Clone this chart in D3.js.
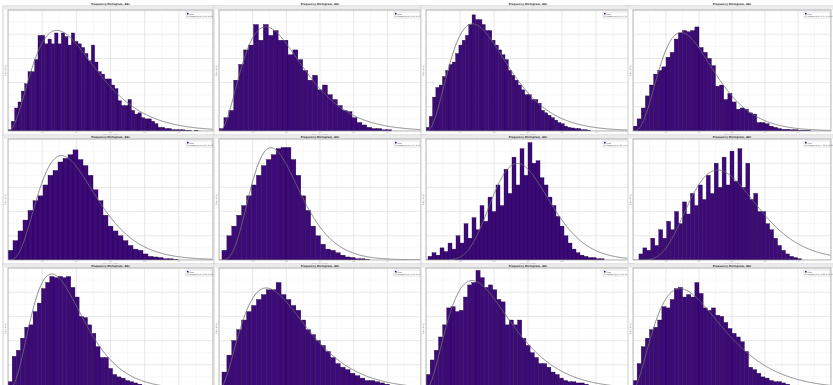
<!DOCTYPE html>
<html>
<head>
<meta charset="utf-8">
<script src="https://cdn.jsdelivr.net/npm/d3@7"></script>
<style>
  body { margin: 0; background: #fff; overflow: hidden; }
  svg { display: block; font-family: "DejaVu Sans", sans-serif; }
</style>
</head>
<body>
<div id="chart"></div>
<script>
// bar heights per bin, one array per panel
const counts1 = [1, 8, 19, 24, 33, 39, 49, 49, 59, 79, 79, 72, 76, 72, 81, 72, 81, 78, 71, 81, 74, 72, 69, 64, 58, 71, 57, 49, 47, 43, 43, 38, 35, 25, 21, 21, 26, 17, 14, 15, 11, 10, 10, 8, 6, 3, 3, 2, 2, 1, 1, 1, 1, 0.5, 0.5, 0, 0.5];
const counts2 = [2, 11, 17, 42, 55, 67, 71, 88, 75, 88, 79, 83, 75, 75, 63, 67, 59, 50, 42, 46, 34, 38, 30, 26, 21, 17, 16, 11, 7, 5, 3, 2, 2, 1, 1];
const counts3 = [3, 12, 28, 36, 38, 45, 50, 55, 57, 64, 71, 75, 79, 88, 96, 92, 92, 88, 83, 83, 75, 71, 67, 63, 59, 50, 46, 42, 38, 34, 30, 30, 26, 26, 23, 17, 15, 13, 11, 9, 7, 6, 4, 3, 2.5, 2, 2, 1, 1, 0.5];
const counts4 = [4, 10, 19, 29, 38, 47, 50, 53, 61, 65, 76, 81, 83, 82, 83, 86, 69, 65, 60, 54, 37, 38, 26, 31, 24, 18, 19, 18, 15, 14, 7, 7, 6, 4, 3, 2, 1.4, 1.4, 1, 1, 0.5, 0.5, 0.5];
const counts5 = [8, 16, 24, 33, 41, 49, 53, 62, 70, 74, 81, 84, 87, 91, 83, 78, 70, 58, 49, 37, 28, 24, 20, 16, 12, 9, 8, 5, 3, 2.5, 2, 1, 1, 0.5];
const counts6 = [8, 20, 28, 37, 45, 53, 62, 70, 78, 83, 87, 92, 93, 93, 83, 70, 53, 41, 28, 20, 13, 9, 8, 6, 4, 2.5, 2, 1, 1, 0.5];
const counts7 = [3, 6, 4, 10, 7, 14, 9, 20, 14, 30, 18, 35, 25, 45, 32, 52, 40, 62, 45, 75, 55, 85, 62, 92, 70, 97, 80, 82, 68, 62, 52, 45, 36, 28, 20, 14, 9, 6, 4, 3, 2, 2, 1, 1];
const counts8 = [5, 10, 8, 18, 12, 25, 18, 32, 25, 40, 30, 48, 38, 55, 45, 62, 50, 70, 55, 80, 60, 85, 62, 90, 65, 92, 60, 80, 50, 55, 40, 40, 30, 25, 18, 12, 8, 5, 3, 2, 1];
const counts9 = [6, 27, 32, 42, 51, 53, 64, 71, 83, 88, 93, 92, 93, 92, 93, 84, 76, 60, 59, 53, 46, 35, 26, 26, 17, 12, 10, 9, 7, 6, 5, 4, 3, 3, 2, 2, 1, 1];
const counts10 = [14, 28, 40, 49, 57, 64, 69, 74, 78, 82, 82, 88, 78, 74, 69, 65, 57, 49, 45, 40, 36, 31, 26, 21, 18, 16, 13, 11, 9, 7, 7, 6, 5, 4, 3, 2.5, 2, 1.5, 1, 0.5];
const counts11 = [12, 24, 32, 43, 53, 67, 68, 64, 65, 76, 86, 88, 98, 92, 84, 86, 82, 74, 72, 53, 57, 53, 57, 42, 36, 30, 26, 21, 21, 18, 14, 12, 9, 7, 6, 6, 5, 5, 4, 3, 2, 1];
const counts12 = [7, 21, 35, 42, 49, 51, 57, 68, 67, 74, 83, 84, 76, 78, 76, 88, 79, 67, 65, 67, 61, 60, 55, 50, 46, 43, 39, 31, 18, 16, 13, 10, 9, 7, 6, 6, 5, 4, 3, 2, 1];

const allCounts = [counts1, counts2, counts3, counts4, counts5, counts6,
                   counts7, counts8, counts9, counts10, counts11, counts12];
// how many bins fit across each x axis, and where the first bar starts (in bins)
const binsAcross = [61.5, 41, 62, 48, 41, 41, 51, 50, 49, 41, 49, 48];
const firstBin   = [0, 0, 0, 0, 0, 0.6, 0.5, 1.5, 0, 0.6, 0, 0];

const xMax = 6;          // x axis units
const yMax = 100;        // frequency axis
const titleText = 'Frequency Histogram, Abc';
const xLabelText = 'Value, Abc [units]';
const yLabelText = 'Frequency';
const legendItems = ['Data', 'Gamma fit'];

// page layout
const W = 833, H = 385;
const colX = [8, 219, 426, 633];
const colW = [205, 202, 204, 198];
const rowY = [10, 139, 268];
const plotH = 121;

const svg = d3.select('#chart').append('svg')
    .attr('width', W)
    .attr('height', H);

const defs = svg.append('defs');

// log-gamma (Lanczos) for the fitted curve
const lg = [676.5203681218851, -1259.1392167224028, 771.32342877765313, -176.61502916214059,
            12.507343278686905, -0.13857109526572012, 9.9843695780195716e-6, 1.5056327351493116e-7];
const lgamma = (z) => {
    if (z < 0.5) return Math.log(Math.PI / Math.sin(Math.PI * z)) - lgamma(1 - z);
    z -= 1;
    let x = 0.99999999999980993;
    for (let i = 0; i < 8; i++) x += lg[i] / (z + i + 1);
    const t = z + 7.5;
    return 0.5 * Math.log(2 * Math.PI) + (z + 0.5) * Math.log(t) - t + Math.log(x);
};
const gammaPdf = (t, k, theta) => t <= 0 ? 0 :
    Math.exp((k - 1) * Math.log(t) - t / theta - lgamma(k) - k * Math.log(theta));

// least-squares gamma fit (shape, mean, amplitude) on the bin centres
const fitGamma = (bins) => {
    const total = d3.sum(bins, d => d.v);
    const m0 = d3.sum(bins, d => d.v * d.c) / total;
    let best = null;
    for (let a = 0; a < 70; a++) {
        const k = Math.pow(10, 0.1 + a * 0.03);
        for (let b = 0; b < 50; b++) {
            const m = m0 * (0.7 + b * 0.012);
            const theta = m / k;
            const f = bins.map(d => gammaPdf(d.c, k, theta));
            const A = d3.sum(bins, (d, j) => d.v * f[j]) / d3.sum(f, v => v * v);
            const sse = d3.sum(bins, (d, j) => (d.v - A * f[j]) ** 2);
            if (!best || sse < best.sse) best = { k, theta, A, sse };
        }
    }
    return best;
};

allCounts.forEach((counts, i) => {
    const row = Math.floor(i / 4), col = i % 4;
    const px = colX[col], py = rowY[row], plotW = colW[col];
    const bw = xMax / binsAcross[i];

    const x = d3.scaleLinear().domain([0, xMax]).range([0, plotW]);
    const y = d3.scaleLinear().domain([0, yMax]).range([plotH, 0]);

    const g = svg.append('g').attr('transform', `translate(${px},${py})`);

    // window chrome
    g.append('rect')
        .attr('x', -5).attr('y', -4)
        .attr('width', plotW + 8).attr('height', plotH + 9)
        .attr('fill', '#fff')
        .attr('stroke', '#d6d6d6').attr('stroke-width', 1.2);
    g.append('rect')
        .attr('x', -5).attr('y', -3.6)
        .attr('width', plotW + 8).attr('height', 3.6)
        .attr('fill', '#ececec');
    g.append('text')
        .attr('x', plotW / 2).attr('y', row === 0 ? -5.5 : -1)
        .attr('text-anchor', 'middle')
        .attr('font-size', 2.6).attr('font-weight', 'bold')
        .attr('fill', '#333')
        .text(titleText);

    const clipId = `clip${i}`;
    defs.append('clipPath').attr('id', clipId)
        .append('rect').attr('width', plotW).attr('height', plotH);

    const plot = g.append('g').attr('clip-path', `url(#${clipId})`);
    plot.append('rect').attr('width', plotW).attr('height', plotH).attr('fill', '#fff');

    // grid
    const minorX = d3.range(0.5, xMax, 1), minorY = d3.range(10, yMax, 20);
    plot.selectAll('.mx').data(minorX).join('line')
        .attr('x1', d => x(d)).attr('x2', d => x(d)).attr('y1', 0).attr('y2', plotH)
        .attr('stroke', '#f1f1f1').attr('stroke-width', 0.6);
    plot.selectAll('.my').data(minorY).join('line')
        .attr('y1', d => y(d)).attr('y2', d => y(d)).attr('x1', 0).attr('x2', plotW)
        .attr('stroke', '#f1f1f1').attr('stroke-width', 0.6);
    plot.selectAll('.gx').data(x.ticks(6)).join('line')
        .attr('x1', d => x(d)).attr('x2', d => x(d)).attr('y1', 0).attr('y2', plotH)
        .attr('stroke', '#dedede').attr('stroke-width', 0.7);
    plot.selectAll('.gy').data(y.ticks(5)).join('line')
        .attr('y1', d => y(d)).attr('y2', d => y(d)).attr('x1', 0).attr('x2', plotW)
        .attr('stroke', '#dedede').attr('stroke-width', 0.7);

    // bars
    const bins = counts.map((v, j) => {
        const x0 = (firstBin[i] + j) * bw, x1 = x0 + bw;
        return { x0, x1, c: (x0 + x1) / 2, v };
    });
    plot.selectAll('.bar').data(bins).join('rect')
        .attr('x', d => x(d.x0))
        .attr('width', d => x(d.x1) - x(d.x0))
        .attr('y', d => y(d.v))
        .attr('height', d => plotH - y(d.v))
        .attr('fill', '#3d0a7a')
        .attr('stroke', '#1c0038')
        .attr('stroke-width', 0.35);

    // fitted curve
    const fit = fitGamma(bins);
    const curve = d3.range(0.005, xMax, 0.02).map(t => [t, fit.A * gammaPdf(t, fit.k, fit.theta)]);
    plot.append('path')
        .datum(curve)
        .attr('d', d3.line().x(d => x(d[0])).y(d => y(d[1])))
        .attr('fill', 'none')
        .attr('stroke', '#6e6e6e')
        .attr('stroke-width', 0.8);

    // frame + axes text
    g.append('rect').attr('width', plotW).attr('height', plotH)
        .attr('fill', 'none').attr('stroke', '#9a9a9a').attr('stroke-width', 0.7);
    // the bottom row's axis text lies below the window edge, so skip it there
    if (py + plotH + 5 < H) {
        g.selectAll('.xt').data(x.ticks(6).filter(d => d > 0 && d < xMax)).join('text')
            .attr('x', d => x(d)).attr('y', plotH + 2.3)
            .attr('text-anchor', 'middle').attr('font-size', 1.8).attr('fill', '#555')
            .text(d => d.toFixed(1));
        g.append('text')
            .attr('x', plotW / 2).attr('y', plotH + 4.4)
            .attr('text-anchor', 'middle').attr('font-size', 1.8).attr('fill', '#444')
            .text(xLabelText);
    }
    g.append('text')
        .attr('transform', `translate(-2.5,${plotH / 2}) rotate(-90)`)
        .attr('text-anchor', 'middle').attr('font-size', 2).attr('fill', '#444')
        .text(yLabelText);

    // legend
    const lgd = g.append('g').attr('transform', `translate(${plotW - 27},2)`);
    lgd.append('rect').attr('width', 26).attr('height', 6)
        .attr('fill', '#fff').attr('stroke', '#bbb').attr('stroke-width', 0.4);
    lgd.append('rect').attr('x', 1).attr('y', 0.9).attr('width', 1.6).attr('height', 1.6).attr('fill', '#3d0a7a');
    lgd.append('line').attr('x1', 0.8).attr('x2', 2.8).attr('y1', 4.3).attr('y2', 4.3)
        .attr('stroke', '#6e6e6e').attr('stroke-width', 0.5);
    lgd.selectAll('text').data(legendItems).join('text')
        .attr('x', 3.6).attr('y', (d, j) => 2.5 + j * 2.4)
        .attr('font-size', 1.8).attr('fill', '#444')
        .text((d, j) => j === 0 ? d : `${d} (k=${fit.k.toFixed(2)}, \u03b8=${fit.theta.toFixed(2)})`);
});
</script>
</body>
</html>
